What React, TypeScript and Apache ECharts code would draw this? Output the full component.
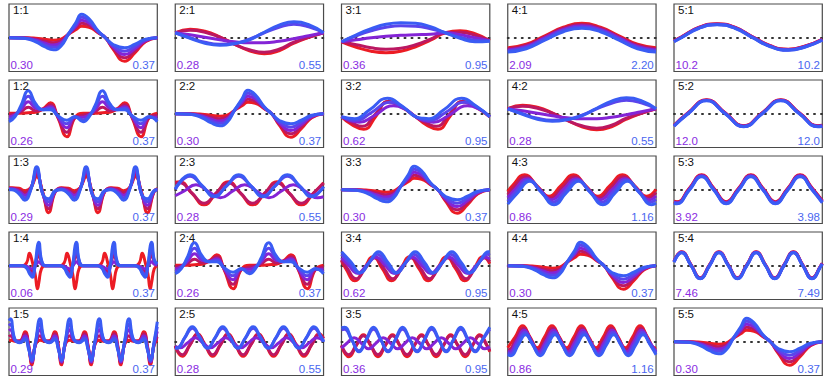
import React, { useEffect, useRef } from "react";
import * as echarts from "echarts";

// colours of the five curves, red -> blue
const curveColors = ["#ec1c24", "#bb1862", "#8424d6", "#5a45ec", "#3a5cf4"];

// panel titles and corner labels, row by row
const panelTitles = [
  ["1:1", "2:1", "3:1", "4:1", "5:1"],
  ["1:2", "2:2", "3:2", "4:2", "5:2"],
  ["1:3", "2:3", "3:3", "4:3", "5:3"],
  ["1:4", "2:4", "3:4", "4:4", "5:4"],
  ["1:5", "2:5", "3:5", "4:5", "5:5"],
];
const lowLabels = [
  ["0.30", "0.28", "0.36", "2.09", "10.2"],
  ["0.26", "0.30", "0.62", "0.28", "12.0"],
  ["0.29", "0.28", "0.30", "0.86", "3.92"],
  ["0.06", "0.26", "0.62", "0.30", "7.46"],
  ["0.29", "0.28", "0.36", "0.86", "0.30"],
];
const highLabels = [
  ["0.37", "0.55", "0.95", "2.20", "10.2"],
  ["0.37", "0.37", "0.95", "0.55", "12.0"],
  ["0.37", "0.55", "0.37", "1.16", "3.98"],
  ["0.37", "0.37", "0.95", "0.37", "7.49"],
  ["0.37", "0.55", "0.95", "1.16", "0.37"],
];

// ---- diagonal panels (1:1, 2:2, 3:3, 4:4, 5:5)
const diagX = [0, 0.1, 0.18, 0.24, 0.3, 0.35, 0.4, 0.45, 0.49, 0.54, 0.6, 0.65, 0.7, 0.78, 0.85, 0.92, 1];
const diagR = [0, 0, -0.5, -1.5, -2.5, -1.5, 3.5, 8, 11.5, 10.5, 5, 0, -11, -23.5, -15, -4, 0];
const diagD = [0, -0.1, -1.4, -3.4, -4.9, -3.3, 3.5, 9.8, 14.5, 12.6, 5.5, 0, -9.9, -20.1, -12.9, -3.4, 0];
const diagP = [0, -0.3, -2.3, -5.3, -7.3, -5, 3.5, 11.5, 17.5, 14.8, 6, 0, -8.8, -16.8, -10.8, -2.8, 0];
const diagV = [0, -0.4, -3.1, -7.1, -9.6, -6.8, 3.5, 13.3, 20.5, 16.9, 6.5, 0, -7.6, -13.4, -8.6, -2.1, 0];
const diagB = [0, -0.5, -4, -9, -12, -8.5, 3.5, 15, 23.5, 19, 7, 0, -6.5, -10, -6.5, -1.5, 0];

// ---- 2:1 (also 4:2)
const p21x = [0, 0.1, 0.2, 0.3, 0.4, 0.5, 0.6, 0.7, 0.8, 0.9, 1];
const p21r = [5, 8.5, 6.5, 1, -6.5, -13, -16, -13, -5.5, 0.5, 5];
const p21d = [5, 7.5, 5.5, 0.5, -6.5, -12, -14.5, -11.5, -4.5, 0.5, 5];
const p21p = [5, 3, 0.5, -2, -4, -5, -5, -3.5, -1, 2, 5];
const p21v = [5, 0, -4.5, -6.5, -5.5, -1.5, 5, 10.5, 13.5, 11, 5];
const p21b = [5, -0.5, -5.5, -7.5, -6, -2, 5.5, 12.5, 16, 13, 5];

// ---- 3:1
const p31x = [0, 0.1, 0.2, 0.3, 0.4, 0.5, 0.6, 0.7, 0.8, 0.9, 1];
const p31r = [-4, -9.5, -13.5, -15, -13.5, -9, -2.5, 5, 7, 4, -3];
const p31d = [-4, -7, -10, -11.5, -10.5, -7, -1.5, 5, 5.5, 2.5, -3];
const p31p = [-4, -2, 0, 1.5, 2.5, 3, 3.5, 5, 3, 0, -3];
const p31v = [-4, 2, 7, 10.5, 12, 11.5, 9, 5, 0.5, -2.5, -3];
const p31b = [-4, 3, 9, 13.5, 15, 14.5, 11, 5, -0.5, -4, -3.5];

// ---- 4:1
const p41x = [0, 0.125, 0.25, 0.375, 0.5, 0.625, 0.75, 0.875, 1];
const p41r = [-10, -6.5, 2, 10.5, 14.5, 10.5, 2, -6.5, -10];
const p41d = [-11, -7.5, 1, 9.5, 13.3, 9.5, 1, -7.5, -11];
const p41p = [-12.2, -8.7, 0, 8.3, 12, 8.3, 0, -8.7, -12.2];
const p41v = [-13.2, -9.8, -1.2, 7.2, 10.7, 7.2, -1.2, -9.8, -13.2];
const p41b = [-14.3, -11, -2.5, 6, 9.5, 6, -2.5, -11, -14.3];

// ---- 5:1
const p51x = [0, 0.05, 0.17, 0.29, 0.41, 0.53, 0.65, 0.77, 0.89, 1];
const p51r = [-3, 1, 10.5, 14, 10.5, 1, -8, -11.5, -8, -1.5];
const p51d = [-3.2, 0.8, 10.3, 13.8, 10.3, 0.8, -8.2, -11.7, -8.2, -1.7];
const p51p = [-3.5, 0.5, 10, 13.5, 10, 0.5, -8.5, -12, -8.5, -2];
const p51v = [-3.7, 0.3, 9.8, 13.3, 9.8, 0.3, -8.7, -12.2, -8.7, -2.2];
const p51b = [-4, 0, 9.5, 13, 9.5, 0, -9, -12.5, -9, -2.5];

// ---- 1:2 (also 2:4)
const p12x = [0, 0.04, 0.08, 0.13, 0.18, 0.23, 0.28, 0.33, 0.39, 0.445, 0.5, 0.54, 0.58, 0.63, 0.68, 0.73, 0.78, 0.83, 0.89, 0.945, 1];
const p12r = [0.5, 0.5, 0.5, 1, 1.5, 5, 11, -4, -23, -4, 0.5, 0.5, 0.5, 1, 1.5, 5, 11, -4, -23, -4, 0.5];
const p12d = [-1.5, 0, 2, 6.5, 3, 4.5, 9, -3.5, -18.5, -4, -1.5, 0, 2, 6.5, 3, 4.5, 9, -3.5, -18.5, -4, -1.5];
const p12p = [-3.5, -1, 4, 12, 5.5, 4.5, 7, -3, -14, -3.5, -3.5, -1, 4, 12, 5.5, 4.5, 7, -3, -14, -3.5, -3.5];
const p12v = [-6, -2, 6, 17.5, 7.5, 4, 5.5, -2.5, -10, -3, -6, -2, 6, 17.5, 7.5, 4, 5.5, -2.5, -10, -3, -6];
const p12b = [-8, -3, 8, 23, 10, 4, 4, -2, -6.5, -3, -8, -3, 8, 23, 10, 4, 4, -2, -6.5, -3, -8];

// ---- 3:2 (x, y pairs)
const p32r = [0, -3, 0.07, -11, 0.15, -15.5, 0.23, -3, 0.31, 12, 0.4, 7, 0.5, -3, 0.57, -11, 0.65, -15.5, 0.73, -3, 0.81, 12, 0.9, 7, 1, -3];
const p32d = [0, -3, 0.07, -9, 0.14, -12.5, 0.23, 0, 0.32, 12.5, 0.41, 6.5, 0.5, -3, 0.57, -9, 0.64, -12.5, 0.73, 0, 0.82, 12.5, 0.91, 6.5, 1, -3];
const p32p = [0, -3, 0.06, -7, 0.12, -8.5, 0.22, -2, 0.35, 8, 0.43, 4.5, 0.5, -3, 0.56, -7, 0.62, -8.5, 0.72, -2, 0.85, 8, 0.93, 4.5, 1, -3];
const p32v = [0, -3, 0.05, -5.5, 0.1, -6.5, 0.2, 1, 0.33, 11.5, 0.42, 6, 0.5, -3, 0.55, -5.5, 0.6, -6.5, 0.7, 1, 0.83, 11.5, 0.92, 6, 1, -3];
const p32b = [0, -3, 0.05, -4.5, 0.09, -5, 0.19, 4, 0.31, 15.5, 0.41, 7.5, 0.5, -3, 0.55, -4.5, 0.59, -5, 0.69, 4, 0.81, 15.5, 0.91, 7.5, 1, -3];

// ---- 5:2
const p52x = [0, 0.095, 0.22, 0.345, 0.47, 0.595, 0.72, 0.845, 0.97, 1];
const p52r = [-11.5, 1, 14, 1, -12, 1, 14, 1, -12, -11.5];
const p52d = [-11.8, 0.8, 13.8, 0.8, -12.2, 0.8, 13.8, 0.8, -12.2, -11.8];
const p52p = [-12, 0.5, 13.5, 0.5, -12.5, 0.5, 13.5, 0.5, -12.5, -12];
const p52v = [-12.2, 0.2, 13.2, 0.2, -12.8, 0.2, 13.2, 0.2, -12.8, -12.2];
const p52b = [-12.5, 0, 13, 0, -13, 0, 13, 0, -13, -12.5];

// ---- 1:3
const p13x = [0, 0.02, 0.067, 0.107, 0.147, 0.187, 0.227, 0.267, 0.312, 0.353, 0.4, 0.44, 0.48, 0.52, 0.56, 0.6, 0.645, 0.687, 0.733, 0.773, 0.813, 0.853, 0.893, 0.933, 0.978, 1];
const p13r = [2, 2, 1.5, -1, 2, 13, -2, -23, -2, 2, 1.5, -1, 2, 13, -2, -23, -2, 2, 1.5, -1, 2, 13, -2, -23, -2, 1];
const p13d = [1.5, 1.5, 0, -3, 2, 15.5, -3, -19, -2, 1.5, 0, -3, 2, 15.5, -3, -19, -2, 1.5, 0, -3, 2, 15.5, -3, -19, -2, 0.5];
const p13p = [1, 1, -1.5, -5.5, 1, 18, -3.5, -15.5, -1.5, 1, -1.5, -5.5, 1, 18, -3.5, -15.5, -1.5, 1, -1.5, -5.5, 1, 18, -3.5, -15.5, -1.5, 0];
const p13v = [0.5, 0.5, -3, -8, 0.5, 20.5, -4, -12, -1.5, 0.5, -3, -8, 0.5, 20.5, -4, -12, -1.5, 0.5, -3, -8, 0.5, 20.5, -4, -12, -1.5, 0];
const p13b = [0, 0, -4, -10.5, 0, 23, -4, -9, -1, 0, -4, -10.5, 0, 23, -4, -9, -1, 0, -4, -10.5, 0, 23, -4, -9, -1, 0];

// ---- 2:3 (x, y pairs)
const p23r = [0, 7.5, 0.03, 8, 0.112, -3.5, 0.194, -15, 0.276, -3.5, 0.358, 8, 0.44, -3.5, 0.522, -15, 0.604, -3.5, 0.686, 8, 0.768, -3.5, 0.85, -15, 0.932, -3.5, 1, 7];
const p23d = [0, 6.5, 0.03, 7, 0.112, -3.25, 0.194, -13.5, 0.276, -3.25, 0.358, 7, 0.44, -3.25, 0.522, -13.5, 0.604, -3.25, 0.686, 7, 0.768, -3.25, 0.85, -13.5, 0.932, -3.25, 1, 6.5];
const p23p = [0, -6, 0.058, -1.5, 0.14, 5, 0.222, -1.5, 0.304, -8, 0.386, -1.5, 0.468, 5, 0.55, -1.5, 0.632, -8, 0.714, -1.5, 0.796, 5, 0.878, -1.5, 0.96, -8, 1, -7];
const p23v = [0, 0.5, 0.1, 13.5, 0.182, 3.75, 0.264, -6, 0.346, 3.75, 0.428, 13.5, 0.51, 3.75, 0.592, -6, 0.674, 3.75, 0.756, 13.5, 0.838, 3.75, 0.92, -6, 1, 3];
const p23b = [0, 0.5, 0.1, 15, 0.182, 4, 0.264, -7, 0.346, 4, 0.428, 15, 0.51, 4, 0.592, -7, 0.674, 4, 0.756, 15, 0.838, 4, 0.92, -7, 1, 3];

// ---- 4:3 (x, y pairs)
const p43r = [0, -2, 0.032, 4.25, 0.114, 15, 0.196, 4.25, 0.278, -6.5, 0.36, 4.25, 0.443, 15, 0.525, 4.25, 0.607, -6.5, 0.69, 4.25, 0.773, 15, 0.855, 4.25, 0.937, -6.5, 1, 0.4];
const p43d = [0, -5, 0.04, 2.4, 0.122, 13, 0.205, 2.4, 0.287, -8.2, 0.369, 2.4, 0.451, 13, 0.534, 2.4, 0.616, -8.2, 0.698, 2.4, 0.781, 13, 0.863, 2.4, 0.945, -8.2, 1, -2.9];
const p43p = [0, -8, 0.049, 0.5, 0.131, 11, 0.213, 0.5, 0.295, -10, 0.377, 0.5, 0.46, 11, 0.542, 0.5, 0.624, -10, 0.707, 0.5, 0.79, 11, 0.872, 0.5, 0.954, -10, 1, -6.2];
const p43v = [0, -11.3, 0.057, -1.4, 0.14, 9.7, 0.222, -1.4, 0.304, -12.5, 0.386, -1.4, 0.468, 9.7, 0.551, -1.4, 0.633, -12.5, 0.715, -1.4, 0.798, 9.7, 0.88, -1.4, 0.962, -12.5, 1, -9.7];
const p43b = [0, -14.4, 0.066, -3.25, 0.148, 8.5, 0.23, -3.25, 0.312, -15, 0.394, -3.25, 0.477, 8.5, 0.559, -3.25, 0.641, -15, 0.724, -3.25, 0.807, 8.5, 0.889, -3.25, 0.971, -15, 1, -13.3];

// ---- 5:3
const p53x = [0, 0.02, 0.103, 0.186, 0.269, 0.352, 0.435, 0.518, 0.601, 0.684, 0.767, 0.85, 0.933, 1];
const p53r = [-11.5, -12, 1.5, 15, 1.5, -12, 1.5, 15, 1.5, -12, 1.5, 15, 1.5, -11];
const p53d = [-12, -12.5, 1, 14.5, 1, -12.5, 1, 14.5, 1, -12.5, 1, 14.5, 1, -11.5];
const p53p = [-12.5, -13, 0.5, 14, 0.5, -13, 0.5, 14, 0.5, -13, 0.5, 14, 0.5, -12];
const p53v = [-13, -13.5, 0, 13.5, 0, -13.5, 0, 13.5, 0, -13.5, 0, 13.5, 0, -12.5];
const p53b = [-13.5, -14, -0.5, 13, -0.5, -14, -0.5, 13, -0.5, -14, -0.5, 13, -0.5, -13];

// ---- 1:4
const p14x = [0,
  0.089, 0.119, 0.138, 0.157, 0.177, 0.192, 0.201, 0.219, 0.244,
  0.3425, 0.3725, 0.3915, 0.4105, 0.4305, 0.4455, 0.4545, 0.4725, 0.4975,
  0.596, 0.626, 0.645, 0.664, 0.684, 0.699, 0.708, 0.726, 0.751,
  0.8495, 0.8795, 0.8985, 0.9175, 0.9375, 0.9525, 0.9615, 0.9795,
  1];
const p14r = [0,
  0, 3, 12.5, 4, -9, -23, -17, -3, 0,
  0, 3, 12.5, 4, -9, -23, -17, -3, 0,
  0, 3, 12.5, 4, -9, -23, -17, -3, 0,
  0, 3, 12.5, 4, -9, -23, -17, -3,
  0];
const p14d = [0,
  0, -1, -3.5, -6, 0, 9, 12, 4, 0,
  0, -1, -3.5, -6, 0, 9, 12, 4, 0,
  0, -1, -3.5, -6, 0, 9, 12, 4, 0,
  0, -1, -3.5, -6, 0, 9, 12, 4,
  1];
const p14p = [0,
  0, -0.5, -2, -3, 0, 3, 4, 1.5, 0,
  0, -0.5, -2, -3, 0, 3, 4, 1.5, 0,
  0, -0.5, -2, -3, 0, 3, 4, 1.5, 0,
  0, -0.5, -2, -3, 0, 3, 4, 1.5,
  0.5];
const p14v = [0,
  0, -2, -6, -9, 1, 14, 17, 5, 0,
  0, -2, -6, -9, 1, 14, 17, 5, 0,
  0, -2, -6, -9, 1, 14, 17, 5, 0,
  0, -2, -6, -9, 1, 14, 17, 5,
  1.5];
const p14b = [0,
  0, -2.5, -8, -11.5, 2, 20, 23.5, 6, 0,
  0, -2.5, -8, -11.5, 2, 20, 23.5, 6, 0,
  0, -2.5, -8, -11.5, 2, 20, 23.5, 6, 0,
  0, -2.5, -8, -11.5, 2, 20, 23.5, 6,
  2];

// ---- 3:4 (x, y pairs)
const p34r = [0, 5, 0.029, -3, 0.09, -15, 0.152, -3, 0.214, 9, 0.276, -3, 0.337, -15, 0.399, -3, 0.461, 9, 0.523, -3, 0.584, -15, 0.646, -3, 0.708, 9, 0.77, -3, 0.831, -15, 0.893, -3, 0.955, 9, 1, 2];
const p34d = [0, 6, 0.038, -2.5, 0.099, -13, 0.161, -2.5, 0.223, 8, 0.285, -2.5, 0.346, -13, 0.408, -2.5, 0.47, 8, 0.532, -2.5, 0.593, -13, 0.655, -2.5, 0.717, 8, 0.779, -2.5, 0.84, -13, 0.902, -2.5, 0.964, 8, 1, 4];
const p34p = [0, 7.9, 0.047, 0.5, 0.108, -7.5, 0.17, 0.5, 0.232, 8.5, 0.294, 0.5, 0.355, -7.5, 0.417, 0.5, 0.479, 8.5, 0.541, 0.5, 0.602, -7.5, 0.664, 0.5, 0.726, 8.5, 0.788, 0.5, 0.849, -7.5, 0.911, 0.5, 0.973, 8.5, 1, 6.7];
const p34v = [0, 11.4, 0.056, 2, 0.117, -7.5, 0.179, 2, 0.241, 11.5, 0.303, 2, 0.364, -7.5, 0.426, 2, 0.488, 11.5, 0.55, 2, 0.611, -7.5, 0.673, 2, 0.735, 11.5, 0.797, 2, 0.858, -7.5, 0.92, 2, 0.982, 11.5, 1, 10.5];
const p34b = [0, 14, 0.065, 3.5, 0.126, -7, 0.188, 3.5, 0.25, 14, 0.312, 3.5, 0.373, -7, 0.435, 3.5, 0.497, 14, 0.559, 3.5, 0.62, -7, 0.682, 3.5, 0.744, 14, 0.806, 3.5, 0.867, -7, 0.929, 3.5, 0.991, 14, 1, 14];

// ---- 5:4
const p54x = [0, 0.052, 0.115, 0.177, 0.24, 0.303, 0.366, 0.428, 0.491, 0.554, 0.617, 0.679, 0.742, 0.805, 0.868, 0.93, 0.993, 1];
const p54r = [4.5, 14, 1, -12, 1, 14, 1, -12, 1, 14, 1, -12, 1, 14, 1, -12, 1, 2.5];
const p54d = [4.3, 13.8, 0.8, -12.2, 0.8, 13.8, 0.8, -12.2, 0.8, 13.8, 0.8, -12.2, 0.8, 13.8, 0.8, -12.2, 0.8, 2.3];
const p54p = [4, 13.5, 0.5, -12.5, 0.5, 13.5, 0.5, -12.5, 0.5, 13.5, 0.5, -12.5, 0.5, 13.5, 0.5, -12.5, 0.5, 2];
const p54v = [3.8, 13.3, 0.3, -12.7, 0.3, 13.3, 0.3, -12.7, 0.3, 13.3, 0.3, -12.7, 0.3, 13.3, 0.3, -12.7, 0.3, 1.8];
const p54b = [3.5, 13, 0, -13, 0, 13, 0, -13, 0, 13, 0, -13, 0, 13, 0, -13, 0, 1.5];

// ---- 1:5
const p15x = [0, 0.01, 0.04,
  0.0735, 0.1085, 0.1335, 0.1535, 0.1785, 0.2095, 0.2385,
  0.2735, 0.3085, 0.3335, 0.3535, 0.3785, 0.4095, 0.4385,
  0.4735, 0.5085, 0.5335, 0.5535, 0.5785, 0.6095, 0.6385,
  0.6735, 0.7085, 0.7335, 0.7535, 0.7785, 0.8095, 0.8385,
  0.8735, 0.9085, 0.9335, 0.9535, 0.9785, 1];
const p15r = [1.5, 1.5, 0.5,
  1, 10, -4, -23, -3, 1.5, 0.5,
  1, 10, -4, -23, -3, 1.5, 0.5,
  1, 10, -4, -23, -3, 1.5, 0.5,
  1, 10, -4, -23, -3, 1.5, 0.5,
  1, 10, -4, -23, -3, 1.5];
const p15d = [5, 6, 1,
  0.5, 8, -5, -21, -3, 6, 1,
  0.5, 8, -5, -21, -3, 6, 1,
  0.5, 8, -5, -21, -3, 6, 1,
  0.5, 8, -5, -21, -3, 6, 1,
  0.5, 8, -5, -21, -3, 5];
const p15p = [11, 12, 1.5,
  0, 6, -6, -20, -2, 12, 1.5,
  0, 6, -6, -20, -2, 12, 1.5,
  0, 6, -6, -20, -2, 12, 1.5,
  0, 6, -6, -20, -2, 12, 1.5,
  0, 6, -6, -20, -2, 10.5];
const p15v = [16, 17.5, 2,
  -0.5, 4, -7, -19, -1, 17.5, 2,
  -0.5, 4, -7, -19, -1, 17.5, 2,
  -0.5, 4, -7, -19, -1, 17.5, 2,
  -0.5, 4, -7, -19, -1, 17.5, 2,
  -0.5, 4, -7, -19, -1, 15];
const p15b = [21, 23, 2.5,
  -1, 2, -8, -18, 0, 23, 2.5,
  -1, 2, -8, -18, 0, 23, 2.5,
  -1, 2, -8, -18, 0, 23, 2.5,
  -1, 2, -8, -18, 0, 23, 2.5,
  -1, 2, -8, -18, 0, 20];

// ---- 2:5 (x, y pairs)
const p25r = [0, -4.5, 0.0475, -14.5, 0.099, -3.25, 0.15, 8, 0.201, -3.25, 0.2525, -14.5, 0.304, -3.25, 0.355, 8, 0.406, -3.25, 0.4575, -14.5, 0.509, -3.25, 0.56, 8, 0.611, -3.25, 0.6625, -14.5, 0.714, -3.25, 0.765, 8, 0.816, -3.25, 0.8675, -14.5, 0.919, -3.25, 0.97, 8, 1, 3.5];
const p25d = [0, -4, 0.0475, -13, 0.099, -3, 0.15, 7, 0.201, -3, 0.2525, -13, 0.304, -3, 0.355, 7, 0.406, -3, 0.4575, -13, 0.509, -3, 0.56, 7, 0.611, -3, 0.6625, -13, 0.714, -3, 0.765, 7, 0.816, -3, 0.8675, -13, 0.919, -3, 0.97, 7, 1, 3];
const p25p = [0, -5, 0.0325, -6, 0.084, -1, 0.135, 4, 0.186, -1, 0.2375, -6, 0.289, -1, 0.34, 4, 0.391, -1, 0.4425, -6, 0.494, -1, 0.545, 4, 0.596, -1, 0.6475, -6, 0.699, -1, 0.75, 4, 0.801, -1, 0.8525, -6, 0.904, -1, 0.955, 4, 1, 1];
const p25v = [0, -5.5, 0.0125, -6, 0.064, 3.75, 0.115, 13.5, 0.1665, 3.75, 0.2175, -6, 0.269, 3.75, 0.32, 13.5, 0.371, 3.75, 0.4225, -6, 0.474, 3.75, 0.525, 13.5, 0.576, 3.75, 0.6275, -6, 0.679, 3.75, 0.73, 13.5, 0.781, 3.75, 0.8325, -6, 0.884, 3.75, 0.935, 13.5, 0.986, 3.75, 1, 0];
const p25b = [0, -6, 0.0125, -6.5, 0.064, 4.25, 0.115, 15, 0.1665, 4.25, 0.2175, -6.5, 0.269, 4.25, 0.32, 15, 0.371, 4.25, 0.4225, -6.5, 0.474, 4.25, 0.525, 15, 0.576, 4.25, 0.6275, -6.5, 0.679, 4.25, 0.73, 15, 0.781, 4.25, 0.8325, -6.5, 0.884, 4.25, 0.935, 15, 0.986, 4.25, 1, 0];

// ---- 3:5 (x, y pairs)
const p35r = [0, -4, 0.05, -15, 0.099, -4, 0.148, 7, 0.197, -4, 0.246, -15, 0.295, -4, 0.344, 7, 0.393, -4, 0.442, -15, 0.491, -4, 0.54, 7, 0.589, -4, 0.638, -15, 0.687, -4, 0.736, 7, 0.785, -4, 0.834, -15, 0.883, -4, 0.932, 7, 0.981, -4, 1, -10];
const p35d = [0, -3.5, 0.05, -13, 0.099, -3.5, 0.148, 6, 0.197, -3.5, 0.246, -13, 0.295, -3.5, 0.344, 6, 0.393, -3.5, 0.442, -13, 0.491, -3.5, 0.54, 6, 0.589, -3.5, 0.638, -13, 0.687, -3.5, 0.736, 6, 0.785, -3.5, 0.834, -13, 0.883, -3.5, 0.932, 6, 0.981, -3.5, 1, -9];
const p35p = [0, -6.5, 0.036, -1.5, 0.085, 4, 0.134, -1.5, 0.183, -7, 0.232, -1.5, 0.281, 4, 0.33, -1.5, 0.379, -7, 0.428, -1.5, 0.477, 4, 0.526, -1.5, 0.575, -7, 0.624, -1.5, 0.673, 4, 0.722, -1.5, 0.771, -7, 0.82, -1.5, 0.869, 4, 0.918, -1.5, 0.967, -7, 1, -5];
const p35v = [0, 12, 0.02, 12.5, 0.069, 1.75, 0.118, -9, 0.167, 1.75, 0.216, 12.5, 0.265, 1.75, 0.314, -9, 0.363, 1.75, 0.412, 12.5, 0.461, 1.75, 0.51, -9, 0.559, 1.75, 0.608, 12.5, 0.657, 1.75, 0.706, -9, 0.755, 1.75, 0.804, 12.5, 0.853, 1.75, 0.902, -9, 0.951, 1.75, 1, 12.5];
const p35b = [0, 14, 0.02, 14.5, 0.069, 2.25, 0.118, -10, 0.167, 2.25, 0.216, 14.5, 0.265, 2.25, 0.314, -10, 0.363, 2.25, 0.412, 14.5, 0.461, 2.25, 0.51, -10, 0.559, 2.25, 0.608, 14.5, 0.657, 2.25, 0.706, -10, 0.755, 2.25, 0.804, 14.5, 0.853, 2.25, 0.902, -10, 0.951, 2.25, 1, 14.5];

// ---- 4:5 (x, y pairs)
const p45r = [0, -6, 0.0505, 5, 0.1, 16, 0.1495, 5, 0.199, -6, 0.2485, 5, 0.298, 16, 0.3475, 5, 0.397, -6, 0.4465, 5, 0.496, 16, 0.5455, 5, 0.595, -6, 0.6445, 5, 0.694, 16, 0.7435, 5, 0.793, -6, 0.8425, 5, 0.892, 16, 0.9415, 5, 0.991, -6, 1, -5.5];
const p45d = [0, -7.9, 0.006, -8, 0.0555, 2.75, 0.105, 13.5, 0.1545, 2.75, 0.204, -8, 0.2535, 2.75, 0.303, 13.5, 0.3525, 2.75, 0.402, -8, 0.4515, 2.75, 0.501, 13.5, 0.5505, 2.75, 0.6, -8, 0.6495, 2.75, 0.699, 13.5, 0.7485, 2.75, 0.798, -8, 0.8475, 2.75, 0.897, 13.5, 0.9465, 2.75, 0.996, -8, 1, -8];
const p45p = [0, -9.8, 0.011, -10, 0.0605, 0.75, 0.11, 11.5, 0.1595, 0.75, 0.209, -10, 0.2585, 0.75, 0.308, 11.5, 0.3575, 0.75, 0.407, -10, 0.4565, 0.75, 0.506, 11.5, 0.5555, 0.75, 0.605, -10, 0.6545, 0.75, 0.704, 11.5, 0.7535, 0.75, 0.803, -10, 0.8525, 0.75, 0.902, 11.5, 0.9515, 0.75, 1, -9.5];
const p45v = [0, -11.5, 0.016, -12, 0.0655, -1.4, 0.115, 9.25, 0.1645, -1.4, 0.214, -12, 0.2635, -1.4, 0.313, 9.25, 0.3625, -1.4, 0.412, -12, 0.4615, -1.4, 0.511, 9.25, 0.5605, -1.4, 0.61, -12, 0.6595, -1.4, 0.709, 9.25, 0.7585, -1.4, 0.808, -12, 0.8575, -1.4, 0.907, 9.25, 0.9565, -1.4, 1, -11];
const p45b = [0, -13, 0.021, -14, 0.0705, -3.5, 0.12, 7, 0.1695, -3.5, 0.219, -14, 0.2685, -3.5, 0.318, 7, 0.3675, -3.5, 0.417, -14, 0.4665, -3.5, 0.516, 7, 0.5655, -3.5, 0.615, -14, 0.6645, -3.5, 0.714, 7, 0.7635, -3.5, 0.813, -14, 0.8625, -3.5, 0.912, 7, 0.9615, -3.5, 1, -13];

type Panel = { xs: number[] | null; curves: number[][] };
const pDiag: Panel = { xs: diagX, curves: [diagR, diagD, diagP, diagV, diagB] };
const p21: Panel = { xs: p21x, curves: [p21r, p21d, p21p, p21v, p21b] };
const p31: Panel = { xs: p31x, curves: [p31r, p31d, p31p, p31v, p31b] };
const p41: Panel = { xs: p41x, curves: [p41r, p41d, p41p, p41v, p41b] };
const p51: Panel = { xs: p51x, curves: [p51r, p51d, p51p, p51v, p51b] };
const p12: Panel = { xs: p12x, curves: [p12r, p12d, p12p, p12v, p12b] };
const p32: Panel = { xs: null, curves: [p32r, p32d, p32p, p32v, p32b] };
const p52: Panel = { xs: p52x, curves: [p52r, p52d, p52p, p52v, p52b] };
const p13: Panel = { xs: p13x, curves: [p13r, p13d, p13p, p13v, p13b] };
const p23: Panel = { xs: null, curves: [p23r, p23d, p23p, p23v, p23b] };
const p43: Panel = { xs: null, curves: [p43r, p43d, p43p, p43v, p43b] };
const p53: Panel = { xs: p53x, curves: [p53r, p53d, p53p, p53v, p53b] };
const p14: Panel = { xs: p14x, curves: [p14r, p14d, p14p, p14v, p14b] };
const p34: Panel = { xs: null, curves: [p34r, p34d, p34p, p34v, p34b] };
const p54: Panel = { xs: p54x, curves: [p54r, p54d, p54p, p54v, p54b] };
const p15: Panel = { xs: p15x, curves: [p15r, p15d, p15p, p15v, p15b] };
const p25: Panel = { xs: null, curves: [p25r, p25d, p25p, p25v, p25b] };
const p35: Panel = { xs: null, curves: [p35r, p35d, p35p, p35v, p35b] };
const p45: Panel = { xs: null, curves: [p45r, p45d, p45p, p45v, p45b] };

const panels: Panel[][] = [
  [pDiag, p21, p31, p41, p51],
  [p12, pDiag, p32, p21, p52],
  [p13, p23, pDiag, p43, p53],
  [p14, p12, p34, pDiag, p54],
  [p15, p25, p35, p45, pDiag],
];

// layout (pixels)
const COL_LEFT = [9, 175.25, 341.5, 507.75, 674];
const ROW_TOP = [4, 80, 156, 232, 308];
const PANEL_W = 148.3;
const PANEL_H = 67.5;
const Y_HALF = 33.75;
const FONT = '11.5px "Liberation Sans", Arial, Helvetica, sans-serif';

function toPoints(p: Panel, ys: number[]): number[][] {
  const out: number[][] = [];
  if (p.xs) {
    for (let i = 0; i < p.xs.length; i++) out.push([p.xs[i], ys[i]]);
  } else {
    for (let i = 0; i + 1 < ys.length; i += 2) out.push([ys[i], ys[i + 1]]);
  }
  return out;
}

export default function App() {
  const ref = useRef<HTMLDivElement>(null);
  useEffect(() => {
    document.body.style.margin = "0";
    const chart = echarts.init(ref.current!, null, { renderer: "svg" });
    const grids: any[] = [];
    const xAxes: any[] = [];
    const yAxes: any[] = [];
    const series: any[] = [];
    const graphic: any[] = [];
    for (let r = 0; r < 5; r++) {
      for (let c = 0; c < 5; c++) {
        const g = r * 5 + c;
        const left = COL_LEFT[c];
        const top = ROW_TOP[r];
        grids.push({
          left, top, width: PANEL_W, height: PANEL_H, show: true,
          borderColor: "#4a4a4a", borderWidth: 1.2, backgroundColor: "rgba(0,0,0,0)",
        });
        xAxes.push({
          gridIndex: g, type: "value", min: 0, max: 1,
          axisLine: { show: true, onZero: true, lineStyle: { color: "#333", width: 2, type: [1, 6] } },
          axisTick: { show: false }, axisLabel: { show: false }, splitLine: { show: false },
        });
        yAxes.push({
          gridIndex: g, type: "value", min: -Y_HALF, max: Y_HALF,
          axisLine: { show: false }, axisTick: { show: false }, axisLabel: { show: false }, splitLine: { show: false },
        });
        const pd = panels[r][c];
        pd.curves.forEach((ys, k) => {
          series.push({
            type: "line", xAxisIndex: g, yAxisIndex: g,
            data: toPoints(pd, ys), smooth: 0.5, symbol: "none", showSymbol: false,
            lineStyle: { color: curveColors[k], width: 3 }, itemStyle: { color: curveColors[k] },
            silent: true, clip: true, z: 2,
          });
        });
        graphic.push({
          type: "text", x: left + 4, y: top + 5.7, z: 10, silent: true,
          style: { text: panelTitles[r][c], fill: "#111", font: FONT, textAlign: "left", textVerticalAlign: "middle" },
        });
        graphic.push({
          type: "text", x: left + 1.5, y: top + 61.3, z: 10, silent: true,
          style: { text: lowLabels[r][c], fill: "#8a2be2", font: FONT, textAlign: "left", textVerticalAlign: "middle" },
        });
        graphic.push({
          type: "text", x: left + 146, y: top + 61.3, z: 10, silent: true,
          style: { text: highLabels[r][c], fill: "#4a66f0", font: FONT, textAlign: "right", textVerticalAlign: "middle" },
        });
      }
    }
    chart.setOption({
      animation: false,
      grid: grids,
      xAxis: xAxes,
      yAxis: yAxes,
      series,
      graphic,
    });
    return () => chart.dispose();
  }, []);
  return <div ref={ref} style={{ width: 830, height: 381 }} />;
}
